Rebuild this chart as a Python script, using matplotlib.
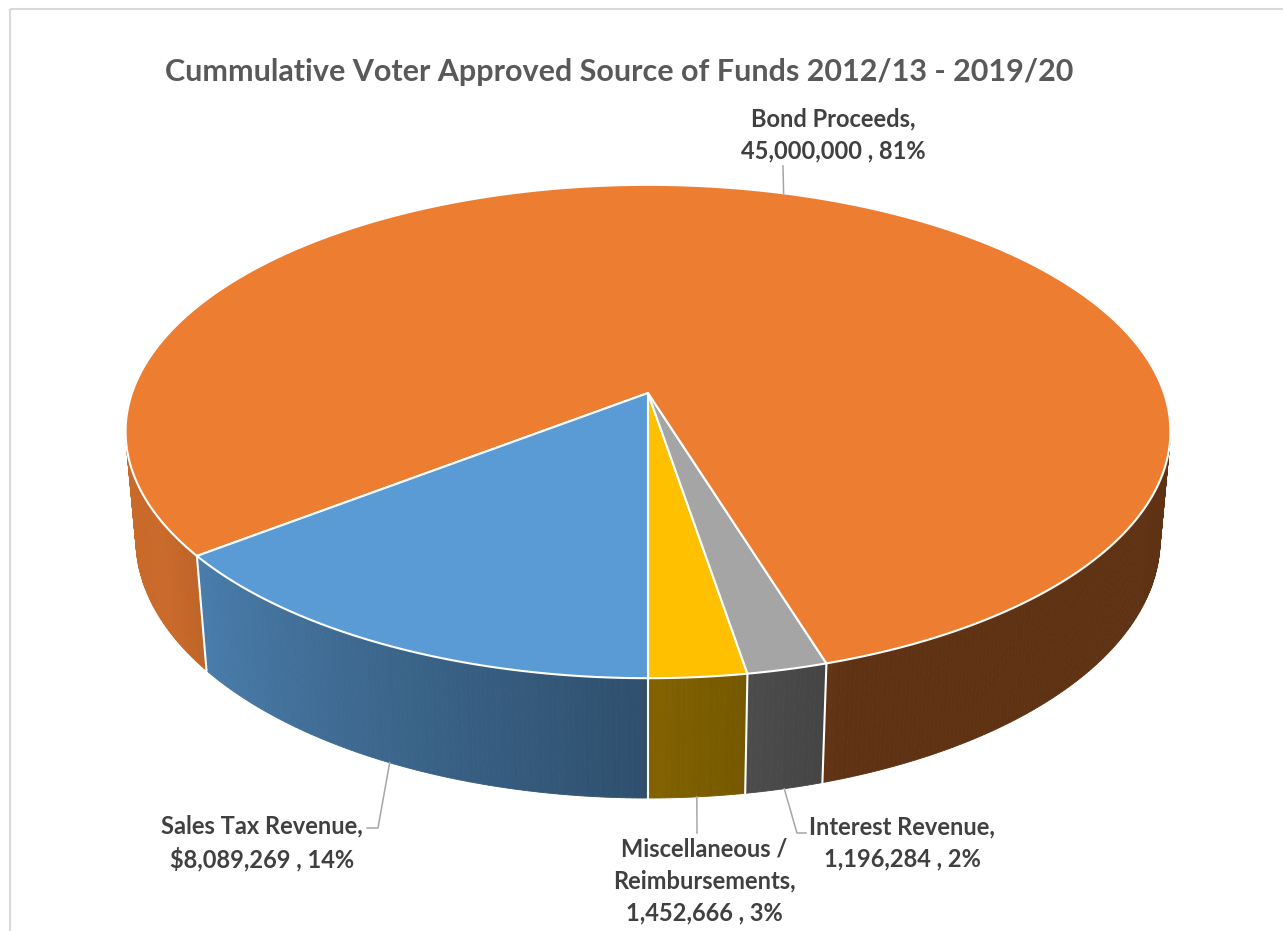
import numpy as np
import matplotlib.pyplot as plt
from matplotlib.patches import Polygon, Rectangle
from matplotlib.colors import to_rgb

plt.rcParams['font.family'] = ['Lato', 'DejaVu Sans']

# slices, counter-clockwise starting at 6 o'clock (as drawn in the sheet)
names = ['Miscellaneous /\nReimbursements', 'Interest Revenue', 'Bond Proceeds', 'Sales Tax Revenue']
values = [1452666, 1196284, 45000000, 8089269]
prefix = ['', '', '', '$']
pct_text = ['3%', '2%', '81%', '14%']
colors = ['#FFC000', '#A5A5A5', '#ED7D31', '#5B9BD5']
title = 'Cummulative Voter Approved Source of Funds 2012/13 - 2019/20'

# label layout (pixel coords, y down)
label_xy = [(704, 881), (902, 843), (833, 135), (262, 843)]
leader_mid = [None, (797, 833), None, (378, 828)]
leader_end = [(697, 833), (806, 833), (783, 166), (367, 828)]
anchor_on = ['bottom', 'bottom', 'top', 'bottom']

W, H = 1283, 931
cx, cy = 648, 393
elev = np.radians(27.8)
se, ce = np.sin(elev), np.cos(elev)
dist = 5.664
focal = 2922.6
thick = 0.239
start = -90.0


def project(t, z):
    X, Y = np.cos(t), np.sin(t)
    depth = dist + Y * ce - z * se
    return cx + focal * X / depth, cy - focal * (Y * se + z * ce) / depth


def side_shade(tdeg):
    tdeg = (tdeg + 180) % 360 - 180
    return np.clip(0.82 - 0.0056 * (tdeg + 145), 0.40, 0.85)


fig = plt.figure(figsize=(W / 100, H / 100), dpi=100)
ax = fig.add_axes([0, 0, 1, 1])
ax.set_xlim(0, W)
ax.set_ylim(H, 0)
ax.axis('off')

ax.add_patch(Rectangle((10, 9), W, H, fill=False, edgecolor='#D9D9D9', lw=1.5))

total = sum(values)
spans = []
a0 = start
for v in values:
    a1 = a0 + 360.0 * v / total
    spans.append((a0, a1))
    a0 = a1

# side of the pie: thin strips, drawn far to near
strips = []
for (a0, a1), col in zip(spans, colors):
    n = max(2, int((a1 - a0) / 0.5))
    angs = np.linspace(a0, a1, n + 1)
    for t0, t1 in zip(angs[:-1], angs[1:]):
        tm = np.radians((t0 + t1) / 2)
        if np.sin(tm) > 0.2:
            continue
        r0, r1 = np.radians(t0), np.radians(t1)
        pts = [project(r0, 0), project(r1, 0), project(r1, -thick), project(r0, -thick)]
        rgb = np.array(to_rgb(col)) * side_shade((t0 + t1) / 2)
        strips.append((np.sin(tm), pts, rgb))
strips.sort(key=lambda s: -s[0])
for _, pts, rgb in strips:
    ax.add_patch(Polygon(pts, closed=True, facecolor=rgb, edgecolor=rgb, lw=0.6))

# white seams between slices on the side
for a0, a1 in spans:
    r = np.radians(a0)
    if np.sin(r) < -0.05:
        p0, p1 = project(r, 0), project(r, -thick)
        ax.plot([p0[0], p1[0]], [p0[1], p1[1]], color='white', lw=1.5)

# top face
for (a0, a1), col in zip(spans, colors):
    angs = np.radians(np.linspace(a0, a1, max(3, int(a1 - a0) * 2)))
    rim = [project(t, 0) for t in angs]
    ax.add_patch(Polygon([(cx, cy)] + rim, closed=True, facecolor=col,
                         edgecolor='white', lw=1.5, joinstyle='round'))

# labels and leader lines
for i, (a0, a1) in enumerate(spans):
    tm = np.radians((a0 + a1) / 2)
    z = 0 if anchor_on[i] == 'top' else -thick
    p = project(tm, z)
    xs, ys = [p[0]], [p[1]]
    if leader_mid[i] is not None:
        xs.append(leader_mid[i][0]); ys.append(leader_mid[i][1])
    xs.append(leader_end[i][0]); ys.append(leader_end[i][1])
    ax.plot(xs, ys, color='#A6A6A6', lw=1.1)
    txt = f"{names[i]},\n{prefix[i]}{values[i]:,} , {pct_text[i]}"
    ax.text(label_xy[i][0], label_xy[i][1], txt, ha='center', va='center',
            fontsize=17, fontweight='bold', color='#404040', linespacing=1.45)

ax.text(619, 72, title, ha='center', va='center', fontsize=22,
        fontweight='bold', color='#595959')

fig.savefig('out.png', dpi=100)
